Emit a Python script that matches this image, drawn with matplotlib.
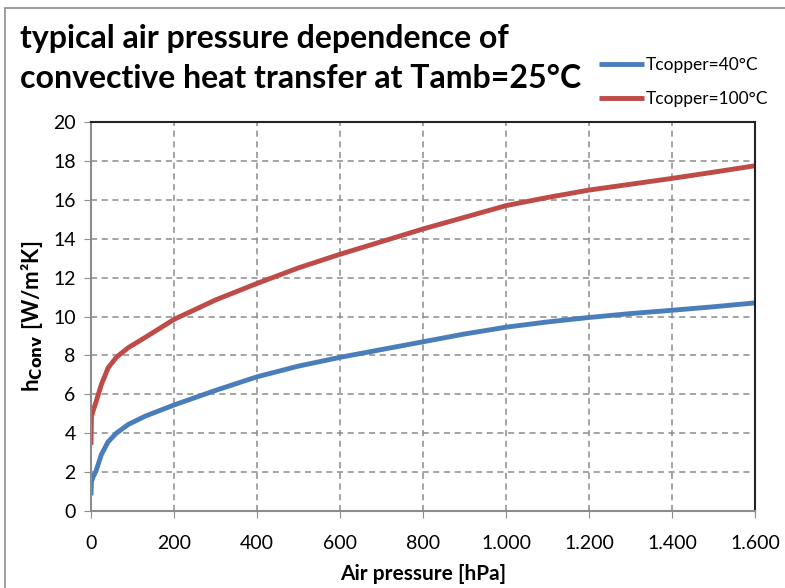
import numpy as np
import matplotlib.pyplot as plt
from matplotlib.ticker import FuncFormatter
from matplotlib.patches import Rectangle

plt.rcParams['font.family'] = ['Lato', 'DejaVu Sans']

# values
pressure = [0, 1, 5, 12, 25, 41, 61, 90, 131, 200, 300, 400, 500, 600, 700, 800, 900, 1000,
            1100, 1200, 1300, 1400, 1500, 1600]
h_40 = [0.8, 1.5, 1.75, 2.05, 2.9, 3.55, 4.0, 4.45, 4.88, 5.45, 6.2, 6.9, 7.45, 7.9, 8.3, 8.7, 9.1, 9.45,
        9.72, 9.95, 10.15, 10.32, 10.5, 10.7]
h_100 = [3.4, 4.85, 5.15, 5.6, 6.5, 7.35, 7.9, 8.4, 8.93, 9.85, 10.85, 11.7, 12.5, 13.2, 13.85, 14.5, 15.1, 15.7,
         16.12, 16.5, 16.8, 17.1, 17.42, 17.75]

fig = plt.figure(figsize=(7.85, 5.88), dpi=100)
ax = fig.add_axes([91/785, 1-511/588, (755-91)/785, (511-122)/588])

# outer chart border
fig.patches.append(Rectangle((5/785, -0.1), 1.2, 1-8/588+0.1, transform=fig.transFigure,
                             fill=False, edgecolor='#8c8c8c', lw=1.2))

ax.plot(pressure, h_40, color='#4a7ebb', lw=3.5, label='Tcopper=40°C', solid_capstyle='butt')
ax.plot(pressure, h_100, color='#be4b48', lw=3.5, label='Tcopper=100°C', solid_capstyle='butt')

ax.set_xlim(0, 1600)
ax.set_ylim(0, 20)
ax.set_xticks(np.arange(0, 1601, 200))
ax.set_yticks(np.arange(0, 21, 2))
ax.xaxis.set_major_formatter(FuncFormatter(lambda v, p: f'{int(v):,}'.replace(',', '.')))
ax.grid(True, color='#8c8c8c', ls=(0, (4, 3)), lw=1.1)
ax.tick_params(labelsize=14, length=5, color='#8c8c8c', pad=6)
ax.tick_params(axis='x', pad=12)
for s in ['left', 'bottom']:
    ax.spines[s].set_color('#8c8c8c')
    ax.spines[s].set_linewidth(1.5)
for s in ['top', 'right']:
    ax.spines[s].set_color('#222222')
    ax.spines[s].set_linewidth(1.5)

ax.set_xlabel('Air pressure [hPa]', fontsize=15, fontweight='bold', labelpad=9)
ax.set_ylabel('h$_\\mathbf{Conv}$ [W/m²K]', fontsize=16, fontweight='bold', labelpad=6)

fig.text(20/785, 1-24/588, 'typical air pressure dependence of\nconvective heat transfer at Tamb=25°C',
         fontsize=23, fontweight='bold', va='top', ha='left', linespacing=1.45)

fig.legend(loc='upper left', bbox_to_anchor=(592/785, 1-50/588), frameon=False, fontsize=12.5,
           handlelength=2.6, handletextpad=0.1, labelspacing=1.05, borderaxespad=0)

fig.savefig('out.png', dpi=100)
